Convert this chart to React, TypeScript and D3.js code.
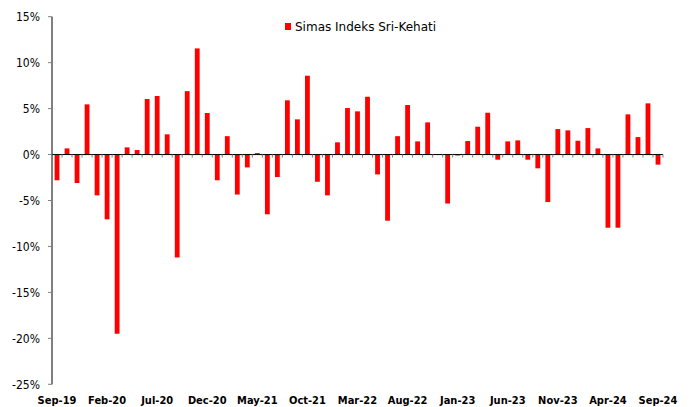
import React from "react";
import * as d3 from "d3";

const monthLabels: string[] = [
  "Sep-19","Oct-19","Nov-19","Dec-19","Jan-20","Feb-20","Mar-20","Apr-20","May-20","Jun-20","Jul-20","Aug-20",
  "Sep-20","Oct-20","Nov-20","Dec-20","Jan-21","Feb-21","Mar-21","Apr-21","May-21","Jun-21","Jul-21","Aug-21",
  "Sep-21","Oct-21","Nov-21","Dec-21","Jan-22","Feb-22","Mar-22","Apr-22","May-22","Jun-22","Jul-22","Aug-22",
  "Sep-22","Oct-22","Nov-22","Dec-22","Jan-23","Feb-23","Mar-23","Apr-23","May-23","Jun-23","Jul-23","Aug-23",
  "Sep-23","Oct-23","Nov-23","Dec-23","Jan-24","Feb-24","Mar-24","Apr-24","May-24","Jun-24","Jul-24","Aug-24",
  "Sep-24",
];

const returns: number[] = [
  -2.8, 0.67, -3.1, 5.46, -4.44, -7.05, -19.5, 0.78, 0.49, 6.04, 6.37, 2.2,
  -11.2, 6.9, 11.55, 4.52, -2.8, 2.0, -4.35, -1.4, 0.16, -6.5, -2.45, 5.9,
  3.83, 8.58, -2.96, -4.44, 1.33, 5.06, 4.7, 6.29, -2.16, -7.2, 2.0, 5.39,
  1.43, 3.5, -0.05, -5.33, -0.1, 1.47, 3.03, 4.55, -0.56, 1.43, 1.54, -0.56,
  -1.5, -5.17, 2.77, 2.63, 1.5, 2.88, 0.67, -7.96, -7.96, 4.37, 1.9, 5.57,
  -1.1,
];

const yTicks: number[] = [15, 10, 5, 0, -5, -10, -15, -20, -25];
const xTickLabels: string[] = [
  "Sep-19","Feb-20","Jul-20","Dec-20","May-21","Oct-21","Mar-22","Aug-22",
  "Jan-23","Jun-23","Nov-23","Apr-24","Sep-24",
];
const seriesName = "Simas Indeks Sri-Kehati";

const W = 691, H = 407;
const left = 52, right = 663, top = 16.7, bottom = 384.3;

export default function App() {
  const x = d3.scaleBand<string>().domain(monthLabels).range([left, right]).paddingInner(0.52).paddingOuter(0.26);
  const y = d3.scaleLinear().domain([-25, 15]).range([bottom, top]);
  const step = x.step();
  const font = "Tahoma, 'DejaVu Sans Condensed', 'DejaVu Sans', sans-serif";
  const legendFont = "Tahoma, 'DejaVu Sans', sans-serif";
  return (
    <svg width={W} height={H} style={{ position: "absolute", left: 0, top: 0, background: "#fff" }}>
      {returns.map((v, i) => (
        <rect key={i} x={x(monthLabels[i])!} width={x.bandwidth()}
          y={y(Math.max(0, v))} height={Math.abs(y(v) - y(0))} fill="#ff0000" />
      ))}
      <line x1={left} x2={left} y1={top} y2={bottom} stroke="#000" strokeWidth={1} />
      {yTicks.map((t) => (
        <g key={t}>
          <line x1={left - 4} x2={left} y1={y(t)} y2={y(t)} stroke="#808080" strokeWidth={1} />
          <text x={40} y={y(t)} dy="0.35em" textAnchor="end" fontFamily={font} fontSize={12} fill="#000">
            {t}%
          </text>
        </g>
      ))}
      <line x1={left} x2={right} y1={y(0)} y2={y(0)} stroke="#000" strokeWidth={1} />
      {d3.range(monthLabels.length + 1).map((i) => (
        <line key={i} x1={left + i * step} x2={left + i * step} y1={y(0)} y2={y(0) + 3}
          stroke="#808080" strokeWidth={1} />
      ))}
      {xTickLabels.map((lab) => (
        <text key={lab} x={x(lab)! + x.bandwidth() / 2} y={400} dy="0.35em" textAnchor="middle"
          fontFamily={font} fontSize={11} fontWeight="bold" fill="#000">
          {lab}
        </text>
      ))}
      <rect x={285} y={23} width={6} height={7} fill="#ff0000" />
      <text x={295} y={26.5} dy="0.35em" fontFamily={legendFont} fontSize={12} fill="#000">{seriesName}</text>
    </svg>
  );
}
